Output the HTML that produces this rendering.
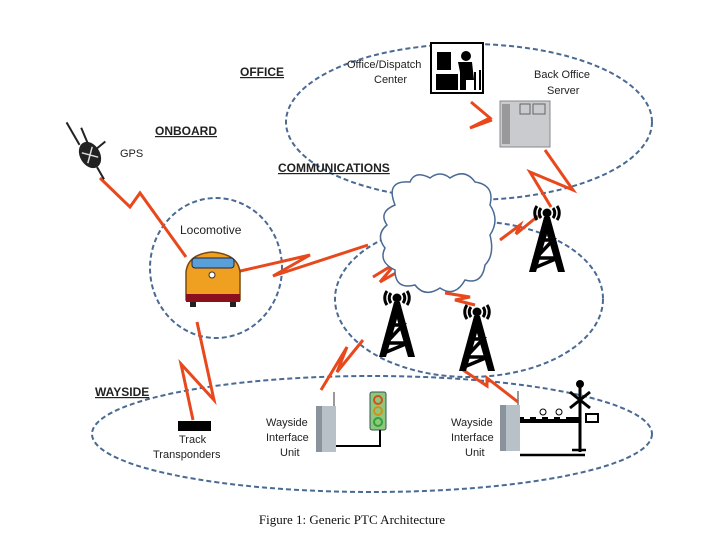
<!DOCTYPE html>
<html><head><meta charset="utf-8"><style>
html,body{margin:0;padding:0;background:#fff;}
svg{display:block;}
.l{font-family:"Liberation Sans",sans-serif;font-size:11px;fill:#222;}
.h{font-family:"Liberation Sans",sans-serif;font-size:12px;font-weight:bold;fill:#222;text-decoration:underline;}
.z{fill:none;stroke:#e8481c;stroke-width:3;stroke-linejoin:miter;}
.e{fill:none;stroke:#4a6a94;stroke-width:2;stroke-dasharray:5,3;}
</style></head><body>
<svg width="715" height="537" viewBox="0 0 715 537" xmlns="http://www.w3.org/2000/svg">
<defs>
<g id="tower">
<path d="M-10,-22 a12,12 0 0 0 0,14 M-6,-20 a8,8 0 0 0 0,10 M10,-22 a12,12 0 0 1 0,14 M6,-20 a8,8 0 0 1 0,10" stroke="#000" stroke-width="3" fill="none"/>
<circle cx="0" cy="-15" r="4.5" fill="#000"/>
<path d="M-3,-11 L3,-11 L18,44 L11,44 L0,6 L-11,44 L-18,44 Z" fill="#000"/>
<path d="M-6,12 L6,12 L-11,30 L11,30 L-13,40" stroke="#000" stroke-width="3.5" fill="none"/>
</g>
<g id="wiu">
<rect x="0" y="0" width="20" height="46" fill="#b8c0c8"/>
<rect x="0" y="0" width="6" height="46" fill="#8a939c"/>
<line x1="18" y1="0" x2="18" y2="-14" stroke="#777" stroke-width="1.5"/>
</g>
</defs>
<ellipse class="e" cx="469" cy="122" rx="183" ry="78"/>
<ellipse class="e" cx="216" cy="268" rx="66" ry="70"/>
<ellipse class="e" cx="469" cy="299" rx="134" ry="78"/>
<ellipse class="e" cx="372" cy="434" rx="280" ry="58"/>
<text class="h" x="240" y="76">OFFICE</text>
<text class="h" x="155" y="135">ONBOARD</text>
<text class="h" x="278" y="172">COMMUNICATIONS</text>
<text class="h" x="95" y="396">WAYSIDE</text>
<polyline class="z" points="100,178 130,207 140,193 186,257"/>
<polyline class="z" points="236,272 310,255 273,276 368,245"/>
<polyline class="z" points="471,102 490,118 470,128 492,120"/>
<polyline class="z" points="545,150 573,190 530,172 551,207"/>
<polyline class="z" points="500,240 520,225 516,234 538,216"/>
<polyline class="z" points="373,277 396,263 380,282 401,270"/>
<polyline class="z" points="445,293 470,297 455,300 475,305"/>
<polyline class="z" points="197,322 214,400 181,364 193,420"/>
<polyline class="z" points="321,390 347,347 337,372 363,340"/>
<polyline class="z" points="463,370 487,386 487,378 518,402"/>
<g transform="translate(90,155) rotate(-30)">
<ellipse cx="0" cy="0" rx="10" ry="14" fill="#222"/>
<line x1="-4" y1="-14" x2="-4" y2="-40" stroke="#222" stroke-width="2"/>
<line x1="4" y1="-12" x2="6" y2="-28" stroke="#222" stroke-width="2"/>
<line x1="0" y1="14" x2="0" y2="28" stroke="#222" stroke-width="2"/>
<line x1="8" y1="-2" x2="20" y2="-4" stroke="#222" stroke-width="2"/>
<path d="M-6,-6 L6,6 M-6,6 L6,-6" stroke="#ddd" stroke-width="1.5"/>
</g>
<text class="l" x="120" y="157">GPS</text>
<text class="l" x="180" y="234" style="font-size:12px">Locomotive</text>
<g>
<path d="M186,300 L186,272 Q188,254 212,252 Q238,254 240,272 L240,300 Z" fill="#f0a020" stroke="#7a4a10" stroke-width="1.5"/>
<rect x="192" y="258" width="42" height="10" rx="3" fill="#5aa0d8" stroke="#224" stroke-width="1"/>
<circle cx="212" cy="275" r="3" fill="#fff" stroke="#333"/>
<rect x="186" y="294" width="54" height="8" fill="#8a1020"/>
<rect x="190" y="302" width="6" height="5" fill="#222"/><rect x="230" y="302" width="6" height="5" fill="#222"/>
</g>
<rect x="431" y="43" width="52" height="50" fill="#fff" stroke="#000" stroke-width="2"/>
<rect x="437" y="52" width="14" height="18" fill="#000"/>
<rect x="436" y="74" width="22" height="16" fill="#000"/>
<circle cx="466" cy="56" r="5" fill="#000"/>
<path d="M458,62 L472,62 L474,80 L466,80 L466,90 L460,90 L460,72 Z" fill="#000"/>
<path d="M475,72 L475,90 M480,70 L480,90" stroke="#000" stroke-width="2"/>
<text class="l" x="347" y="68">Office/Dispatch</text>
<text class="l" x="374" y="83">Center</text>
<text class="l" x="534" y="78">Back Office</text>
<text class="l" x="547" y="94">Server</text>
<rect x="500" y="101" width="50" height="46" fill="#c9cbce" stroke="#888"/>
<rect x="502" y="104" width="8" height="40" fill="#999"/>
<rect x="520" y="104" width="10" height="10" fill="none" stroke="#666"/>
<rect x="533" y="104" width="12" height="10" fill="none" stroke="#666"/>
<path d="M395,205 Q385,180 410,182 Q415,170 430,178 Q440,170 450,178 Q465,168 475,182 Q495,185 490,205 Q500,220 490,235 Q495,255 485,265 Q482,285 465,280 Q455,298 440,288 Q425,298 415,285 Q395,290 395,270 Q378,262 385,248 Q375,235 387,225 Q378,212 395,205 Z" fill="#fff" stroke="#4a6a94" stroke-width="1.5"/>
<use href="#tower" x="547" y="228"/>
<use href="#tower" x="397" y="313"/>
<use href="#tower" x="477" y="327"/>
<rect x="178" y="421" width="33" height="10" fill="#000"/>
<text class="l" x="179" y="443">Track</text>
<text class="l" x="153" y="458">Transponders</text>
<text class="l" x="266" y="426">Wayside</text>
<text class="l" x="266" y="441">Interface</text>
<text class="l" x="280" y="456">Unit</text>
<use href="#wiu" x="316" y="406"/>
<rect x="370" y="392" width="16" height="38" rx="2" fill="#8fc87a" stroke="#355" stroke-width="1"/>
<circle cx="378" cy="400" r="4" fill="none" stroke="#d05020" stroke-width="2"/>
<circle cx="378" cy="411" r="4" fill="none" stroke="#d09020" stroke-width="2"/>
<circle cx="378" cy="422" r="4" fill="none" stroke="#30a040" stroke-width="2"/>
<path d="M336,446 L380,446 L380,430" stroke="#000" stroke-width="2" fill="none"/>
<text class="l" x="451" y="426">Wayside</text>
<text class="l" x="451" y="441">Interface</text>
<text class="l" x="465" y="456">Unit</text>
<use href="#wiu" x="500" y="405"/>
<rect x="520" y="417" width="60" height="6" fill="#000"/>
<path d="M524,418 h6 M536,418 h6 M548,418 h6 M560,418 h6" stroke="#fff" stroke-width="2"/>
<circle cx="543" cy="412" r="3" fill="none" stroke="#000"/><circle cx="559" cy="412" r="3" fill="none" stroke="#000"/>
<line x1="580" y1="386" x2="580" y2="452" stroke="#000" stroke-width="3"/>
<circle cx="580" cy="384" r="4" fill="#000"/>
<path d="M570,392 L590,408 M590,392 L570,408" stroke="#000" stroke-width="3"/>
<rect x="586" y="414" width="12" height="8" fill="#fff" stroke="#000" stroke-width="2"/>
<path d="M520,455 L585,455 M572,450 h14" stroke="#000" stroke-width="2.5"/>
<text x="352" y="524" text-anchor="middle" style="font-family:'Liberation Serif',serif;font-size:13px;fill:#111">Figure 1:  Generic PTC Architecture</text>
</svg>
</body></html>
